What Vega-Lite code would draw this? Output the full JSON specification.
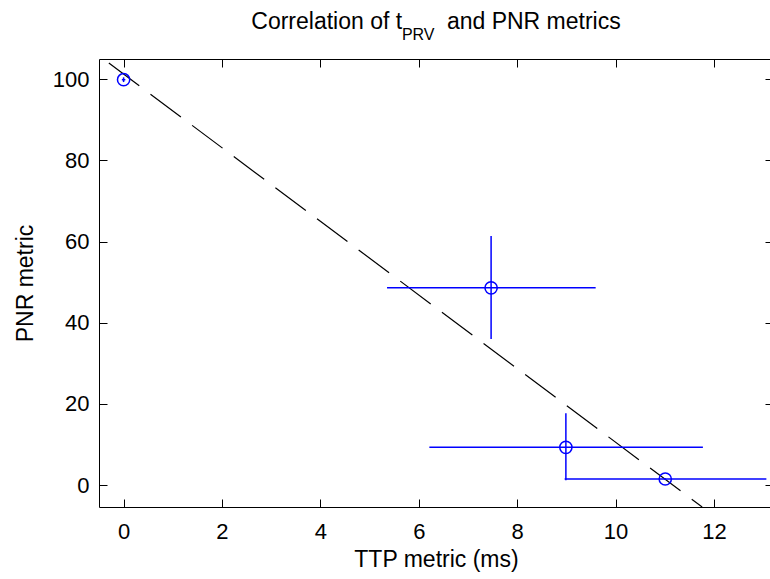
{
  "$schema": "https://vega.github.io/schema/vega-lite/v6.json",
  "width": 674,
  "height": 448,
  "autosize": "none",
  "padding": {"left": 99, "top": 59, "right": 0, "bottom": 72},
  "background": "white",
  "config": {
    "view": {"stroke": "black", "strokeWidth": 1},
    "font": "Liberation Sans",
    "axis": {
      "labelFont": "Liberation Sans",
      "labelFontSize": 22,
      "labelColor": "black",
      "titleFont": "Liberation Sans",
      "titleFontSize": 23,
      "titleFontWeight": "normal",
      "titleColor": "black",
      "domainColor": "black",
      "tickColor": "black",
      "grid": false,
      "tickSize": -8,
      "tickWidth": 1
    }
  },
  "title": {
    "text": "Correlation of t\u00a0\u00a0\u00a0\u00a0\u00a0\u00a0\u00a0and PNR metrics",
    "subtitle": "PRV\u00a0\u00a0\u00a0\u00a0\u00a0\u00a0\u00a0\u00a0\u200b",
    "font": "Liberation Sans",
    "fontSize": 23,
    "fontWeight": "normal",
    "color": "black",
    "subtitleFont": "Liberation Sans",
    "subtitleFontSize": 16,
    "subtitleColor": "black",
    "subtitlePadding": -7,
    "anchor": "middle",
    "frame": "group",
    "offset": 16
  },
  "datasets": {
    "fit": [
      {"ttp": -0.3, "pnr": 104.0},
      {"ttp": 11.76, "pnr": -5.4}
    ],
    "obs": [
      {"ttp": 0, "pnr": 99.9, "ttp_lo": -0.02, "ttp_hi": 0.02, "pnr_lo": 99.5, "pnr_hi": 100.3},
      {"ttp": 7.47, "pnr": 48.6, "ttp_lo": 5.37, "ttp_hi": 9.58, "pnr_lo": 36.2, "pnr_hi": 61.2},
      {"ttp": 8.99, "pnr": 9.3, "ttp_lo": 6.23, "ttp_hi": 11.76, "pnr_lo": 1.4, "pnr_hi": 17.5},
      {"ttp": 11.01, "pnr": 1.5, "ttp_lo": 8.98, "ttp_hi": 13.05, "pnr_lo": 1.5, "pnr_hi": 1.5}
    ]
  },
  "resolve": {"axis": {"x": "independent", "y": "independent"}},
  "layer": [
    {
      "data": {"name": "fit"},
      "mark": {"type": "line", "color": "black", "strokeWidth": 1.2, "strokeDash": [38, 14], "clip": true},
      "encoding": {
        "x": {"field": "ttp", "type": "quantitative", "scale": {"domain": [-0.5, 13.2], "nice": false, "zero": false},
              "axis": {"orient": "bottom", "title": "TTP metric (ms)", "values": [0, 2, 4, 6, 8, 10, 12], "labelPadding": 22, "titlePadding": 6, "domain": false}},
        "y": {"field": "pnr", "type": "quantitative", "scale": {"domain": [-5.4, 105], "nice": false, "zero": false},
              "axis": {"orient": "left", "title": "PNR metric", "values": [0, 20, 40, 60, 80, 100], "labelPadding": 18, "titlePadding": 15, "domain": false}}
      }
    },
    {
      "data": {"name": "obs"},
      "mark": {"type": "rule", "color": "#0000ff", "strokeWidth": 1.5, "strokeCap": "square", "clip": true},
      "encoding": {
        "x": {"field": "ttp_lo", "type": "quantitative", "scale": {"domain": [-0.5, 13.2], "nice": false, "zero": false}, "axis": null},
        "x2": {"field": "ttp_hi"},
        "y": {"field": "pnr", "type": "quantitative", "scale": {"domain": [-5.4, 105], "nice": false, "zero": false}, "axis": null}
      }
    },
    {
      "data": {"name": "obs"},
      "mark": {"type": "rule", "color": "#0000ff", "strokeWidth": 1.5, "strokeCap": "square", "clip": true},
      "encoding": {
        "x": {"field": "ttp", "type": "quantitative", "scale": {"domain": [-0.5, 13.2], "nice": false, "zero": false}, "axis": null},
        "y": {"field": "pnr_lo", "type": "quantitative", "scale": {"domain": [-5.4, 105], "nice": false, "zero": false}, "axis": null},
        "y2": {"field": "pnr_hi"}
      }
    },
    {
      "data": {"name": "obs"},
      "mark": {"type": "point", "shape": "circle", "filled": false, "color": "#0000ff", "strokeWidth": 1.5, "size": 150, "opacity": 1},
      "encoding": {
        "x": {"field": "ttp", "type": "quantitative", "scale": {"domain": [-0.5, 13.2], "nice": false, "zero": false},
              "axis": {"orient": "top", "title": null, "labels": false, "values": [0, 2, 4, 6, 8, 10, 12], "domain": false}},
        "y": {"field": "pnr", "type": "quantitative", "scale": {"domain": [-5.4, 105], "nice": false, "zero": false},
              "axis": {"orient": "right", "title": null, "labels": false, "values": [0, 20, 40, 60, 80, 100], "domain": false}}
      }
    }
  ]
}
